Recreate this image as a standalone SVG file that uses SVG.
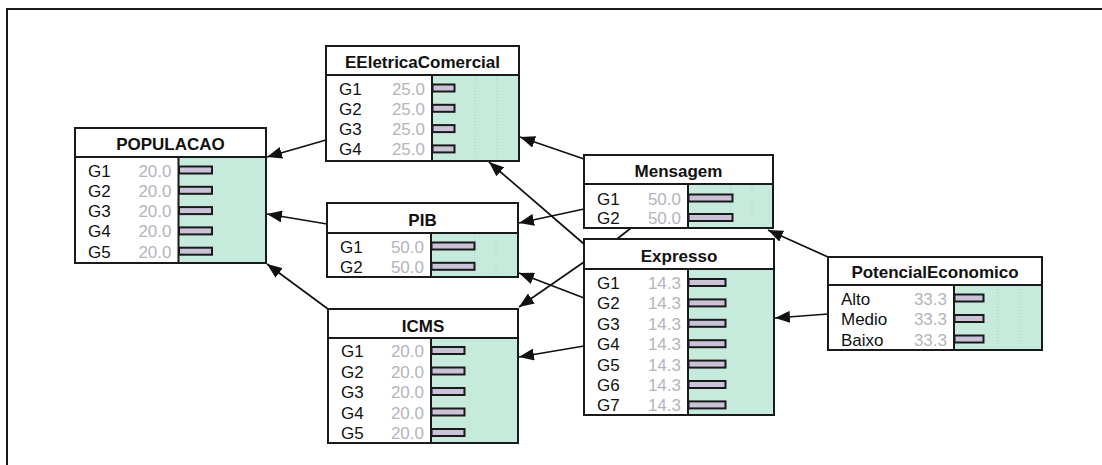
<svg xmlns="http://www.w3.org/2000/svg" width="1102" height="465" viewBox="0 0 1102 465">
<defs>
<style>
.box{fill:#ffffff;stroke:#1a1a1a;stroke-width:2}
.grn{fill:#c6eadb;stroke:none}
.sep{stroke:#1a1a1a;stroke-width:2}
.grid{stroke:#a9d3c2;stroke-width:1;stroke-dasharray:1 2}
.hd{font-family:"Liberation Sans",Arial,sans-serif;font-weight:bold;font-size:17px;fill:#111;text-anchor:middle}
.lb{font-family:"Liberation Sans",Arial,sans-serif;font-size:17px;fill:#111}
.vl{font-family:"Liberation Sans",Arial,sans-serif;font-size:17px;fill:#b4b4bc;text-anchor:end}
.bar{fill:#c9c2d8;stroke:#1a1a1a;stroke-width:2}
.edge{stroke:#111;stroke-width:1.7;fill:none}
</style>
<marker id="ah" markerUnits="userSpaceOnUse" markerWidth="16" markerHeight="12" refX="15" refY="6" orient="auto">
<path d="M0,0 L15,6 L0,12 z" fill="#111"/>
</marker>
</defs>
<rect x="0" y="0" width="1102" height="465" fill="#ffffff"/>
<path d="M7,465 V9 H1102" fill="none" stroke="#1a1a1a" stroke-width="2"/>

<g id="connectors">
<line class="edge" x1="326" y1="140" x2="267" y2="157" marker-end="url(#ah)"/>
<line class="edge" x1="327" y1="224" x2="267" y2="214" marker-end="url(#ah)"/>
<line class="edge" x1="328" y1="309" x2="267" y2="264" marker-end="url(#ah)"/>
<line class="edge" x1="584" y1="159" x2="520" y2="137" marker-end="url(#ah)"/>
<line class="edge" x1="584" y1="244" x2="489" y2="162" marker-end="url(#ah)"/>
<line class="edge" x1="584" y1="209" x2="519" y2="223" marker-end="url(#ah)"/>
<line class="edge" x1="584" y1="298" x2="519" y2="273" marker-end="url(#ah)"/>
<line class="edge" x1="584" y1="262" x2="519" y2="307" marker-end="url(#ah)"/>
<line class="edge" x1="584" y1="346" x2="519" y2="357" marker-end="url(#ah)"/>
<line class="edge" x1="617" y1="239" x2="631" y2="228"/>
<line class="edge" x1="828" y1="257" x2="768" y2="230" marker-end="url(#ah)"/>
<line class="edge" x1="828" y1="314" x2="775" y2="318" marker-end="url(#ah)"/>
</g>

<g id="POPULACAO">
<rect class="box" x="75" y="128" width="191" height="135"/>
<rect class="grn" x="178.5" y="157" width="87.5" height="106"/>
<line class="sep" x1="75" y1="157" x2="266" y2="157"/>
<line class="sep" x1="178.5" y1="157" x2="178.5" y2="263"/>
<rect class="box" x="75" y="128" width="191" height="135" style="fill:none"/>
<text class="hd" x="170.5" y="150">POPULACAO</text>
<text class="lb" x="88" y="176.5">G1</text><text class="vl" x="171.5" y="176.5">20.0</text><rect class="bar" x="179" y="166.5" width="33" height="7"/>
<text class="lb" x="88" y="196.8">G2</text><text class="vl" x="171.5" y="196.8">20.0</text><rect class="bar" x="179" y="186.8" width="33" height="7"/>
<text class="lb" x="88" y="217.1">G3</text><text class="vl" x="171.5" y="217.1">20.0</text><rect class="bar" x="179" y="207.1" width="33" height="7"/>
<text class="lb" x="88" y="237.4">G4</text><text class="vl" x="171.5" y="237.4">20.0</text><rect class="bar" x="179" y="227.4" width="33" height="7"/>
<text class="lb" x="88" y="257.7">G5</text><text class="vl" x="171.5" y="257.7">20.0</text><rect class="bar" x="179" y="247.7" width="33" height="7"/>
</g>

<g id="EEletricaComercial">
<rect class="box" x="326" y="46" width="193" height="115"/>
<rect class="grn" x="432" y="75" width="87" height="86"/>
<line class="grid" x1="475.5" y1="76" x2="475.5" y2="160"/>
<line class="grid" x1="497" y1="76" x2="497" y2="160"/>
<line class="sep" x1="326" y1="75" x2="519" y2="75"/>
<line class="sep" x1="432" y1="75" x2="432" y2="161"/>
<rect class="box" x="326" y="46" width="193" height="115" style="fill:none"/>
<text class="hd" x="422.5" y="68">EEletricaComercial</text>
<text class="lb" x="339" y="94.5">G1</text><text class="vl" x="425" y="94.5">25.0</text><rect class="bar" x="432.5" y="84.5" width="22" height="7"/>
<text class="lb" x="339" y="114.8">G2</text><text class="vl" x="425" y="114.8">25.0</text><rect class="bar" x="432.5" y="104.8" width="22" height="7"/>
<text class="lb" x="339" y="135.1">G3</text><text class="vl" x="425" y="135.1">25.0</text><rect class="bar" x="432.5" y="125.1" width="22" height="7"/>
<text class="lb" x="339" y="155.4">G4</text><text class="vl" x="425" y="155.4">25.0</text><rect class="bar" x="432.5" y="145.4" width="22" height="7"/>
</g>

<g id="PIB">
<rect class="box" x="327" y="203" width="191" height="74"/>
<rect class="grn" x="431" y="233" width="87" height="44"/>
<line class="grid" x1="474.5" y1="234" x2="474.5" y2="276"/>
<line class="grid" x1="496" y1="234" x2="496" y2="276"/>
<line class="sep" x1="327" y1="233" x2="518" y2="233"/>
<line class="sep" x1="431" y1="233" x2="431" y2="277"/>
<rect class="box" x="327" y="203" width="191" height="74" style="fill:none"/>
<text class="hd" x="422.5" y="226">PIB</text>
<text class="lb" x="340" y="252.5">G1</text><text class="vl" x="424" y="252.5">50.0</text><rect class="bar" x="431.5" y="242.5" width="43" height="7"/>
<text class="lb" x="340" y="272.8">G2</text><text class="vl" x="424" y="272.8">50.0</text><rect class="bar" x="431.5" y="262.8" width="43" height="7"/>
</g>

<g id="ICMS">
<rect class="box" x="328" y="309" width="190" height="134"/>
<rect class="grn" x="431" y="338" width="87" height="105"/>
<line class="sep" x1="328" y1="338" x2="518" y2="338"/>
<line class="sep" x1="431" y1="338" x2="431" y2="443"/>
<rect class="box" x="328" y="309" width="190" height="134" style="fill:none"/>
<text class="hd" x="423" y="332">ICMS</text>
<text class="lb" x="341" y="357">G1</text><text class="vl" x="424" y="357">20.0</text><rect class="bar" x="431.5" y="347" width="33" height="7"/>
<text class="lb" x="341" y="377.5">G2</text><text class="vl" x="424" y="377.5">20.0</text><rect class="bar" x="431.5" y="367.5" width="33" height="7"/>
<text class="lb" x="341" y="398">G3</text><text class="vl" x="424" y="398">20.0</text><rect class="bar" x="431.5" y="388" width="33" height="7"/>
<text class="lb" x="341" y="418.5">G4</text><text class="vl" x="424" y="418.5">20.0</text><rect class="bar" x="431.5" y="408.5" width="33" height="7"/>
<text class="lb" x="341" y="439">G5</text><text class="vl" x="424" y="439">20.0</text><rect class="bar" x="431.5" y="429" width="33" height="7"/>
</g>

<g id="Mensagem">
<rect class="box" x="584" y="155" width="189" height="73"/>
<rect class="grn" x="688" y="184" width="85" height="44"/>
<line class="grid" x1="730.5" y1="185" x2="730.5" y2="227"/>
<line class="grid" x1="752" y1="185" x2="752" y2="227"/>
<line class="sep" x1="584" y1="184" x2="773" y2="184"/>
<line class="sep" x1="688" y1="184" x2="688" y2="228"/>
<rect class="box" x="584" y="155" width="189" height="73" style="fill:none"/>
<text class="hd" x="678.5" y="177">Mensagem</text>
<text class="lb" x="597" y="204.5">G1</text><text class="vl" x="681" y="204.5">50.0</text><rect class="bar" x="688.5" y="194.5" width="44" height="7"/>
<text class="lb" x="597" y="224">G2</text><text class="vl" x="681" y="224">50.0</text><rect class="bar" x="688.5" y="214" width="44" height="7"/>
</g>

<g id="Expresso">
<rect class="box" x="584" y="239" width="190" height="176"/>
<rect class="grn" x="688" y="269" width="86" height="146"/>
<line class="sep" x1="584" y1="269" x2="774" y2="269"/>
<line class="sep" x1="688" y1="269" x2="688" y2="415"/>
<rect class="box" x="584" y="239" width="190" height="176" style="fill:none"/>
<text class="hd" x="679" y="262">Expresso</text>
<text class="lb" x="597" y="289">G1</text><text class="vl" x="681" y="289">14.3</text><rect class="bar" x="688.5" y="279" width="37" height="7"/>
<text class="lb" x="597" y="309.4">G2</text><text class="vl" x="681" y="309.4">14.3</text><rect class="bar" x="688.5" y="299.4" width="37" height="7"/>
<text class="lb" x="597" y="329.8">G3</text><text class="vl" x="681" y="329.8">14.3</text><rect class="bar" x="688.5" y="319.8" width="37" height="7"/>
<text class="lb" x="597" y="350.2">G4</text><text class="vl" x="681" y="350.2">14.3</text><rect class="bar" x="688.5" y="340.2" width="37" height="7"/>
<text class="lb" x="597" y="370.6">G5</text><text class="vl" x="681" y="370.6">14.3</text><rect class="bar" x="688.5" y="360.6" width="37" height="7"/>
<text class="lb" x="597" y="391">G6</text><text class="vl" x="681" y="391">14.3</text><rect class="bar" x="688.5" y="381" width="37" height="7"/>
<text class="lb" x="597" y="411.4">G7</text><text class="vl" x="681" y="411.4">14.3</text><rect class="bar" x="688.5" y="401.4" width="37" height="7"/>
</g>

<g id="PotencialEconomico">
<rect class="box" x="828" y="257" width="214" height="93"/>
<rect class="grn" x="954" y="285" width="88" height="65"/>
<line class="grid" x1="998" y1="286" x2="998" y2="349"/>
<line class="grid" x1="1020" y1="286" x2="1020" y2="349"/>
<line class="sep" x1="828" y1="285" x2="1042" y2="285"/>
<line class="sep" x1="954" y1="285" x2="954" y2="350"/>
<rect class="box" x="828" y="257" width="214" height="93" style="fill:none"/>
<text class="hd" x="935" y="278">PotencialEconomico</text>
<text class="lb" x="841" y="304.5">Alto</text><text class="vl" x="947" y="304.5">33.3</text><rect class="bar" x="954.5" y="294.5" width="29" height="7"/>
<text class="lb" x="841" y="325">Medio</text><text class="vl" x="947" y="325">33.3</text><rect class="bar" x="954.5" y="315" width="29" height="7"/>
<text class="lb" x="841" y="345.5">Baixo</text><text class="vl" x="947" y="345.5">33.3</text><rect class="bar" x="954.5" y="335.5" width="29" height="7"/>
</g>
</svg>
